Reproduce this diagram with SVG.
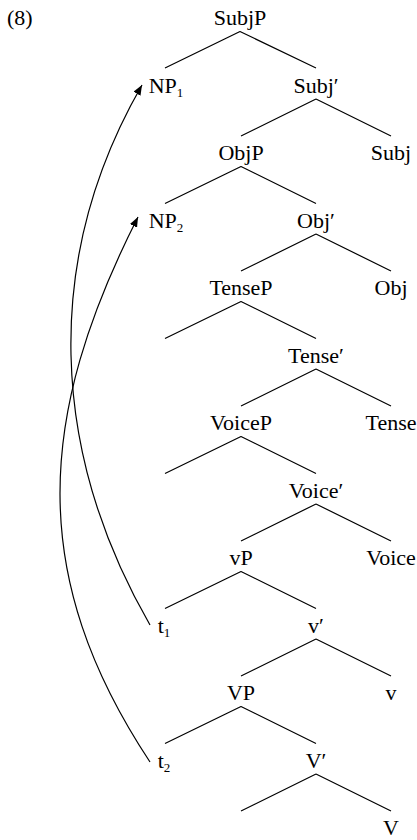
<svg xmlns="http://www.w3.org/2000/svg" width="417" height="840" viewBox="0 0 417 840">
<style>
text{font-family:'Liberation Serif','DejaVu Serif',serif;font-size:22px;fill:#000;text-anchor:middle}
.sub{font-size:13px}
.edge{stroke:#000;stroke-width:1.2;fill:none}
.mv{stroke:#000;stroke-width:1.2;fill:none;marker-end:url(#ah)}
</style>
<defs>
<marker id="ah" markerUnits="userSpaceOnUse" markerWidth="11" markerHeight="8" refX="10" refY="4" orient="auto">
<path d="M0,0 L10,4 L0,8 z" fill="#000"/>
</marker>
</defs>
<text x="7" y="25" style="text-anchor:start">(8)</text>
<g id="connectors">
<path class="edge" d="M240,31.5 L165,68 M240,31.5 L316,68"/>
<path class="edge" d="M316,99 L241,136 M316,99 L391,136"/>
<path class="edge" d="M241,166.5 L165,203.5 M241,166.5 L316,203.5"/>
<path class="edge" d="M316,234 L241,271 M316,234 L391,271"/>
<path class="edge" d="M241,301.5 L165,338.5 M241,301.5 L316,338.5"/>
<path class="edge" d="M316,369 L241,406 M316,369 L391,406"/>
<path class="edge" d="M241,436.5 L165,473.5 M241,436.5 L316,473.5"/>
<path class="edge" d="M316,504 L241,541 M316,504 L391,541"/>
<path class="edge" d="M241,571.5 L165,608.5 M241,571.5 L316,608.5"/>
<path class="edge" d="M316,639 L241,676 M316,639 L391,676"/>
<path class="edge" d="M241,706.5 L165,743.5 M241,706.5 L316,743.5"/>
<path class="edge" d="M316,774 L241,811 M316,774 L391,811"/>
<path id="move1" class="mv" d="M150,625 C50,451 42,259 142,85"/>
<path id="move2" class="mv" d="M150,762 C27,576 37,416 138,217"/>
</g>
<g id="SubjP"><text x="240" y="25">SubjP</text></g>
<g id="NP1"><text x="166" y="92.5">NP<tspan class="sub" dy="4">1</tspan></text></g>
<g id="SubjBar"><text x="316" y="92.5">Subj′</text></g>
<g id="ObjP"><text x="241" y="160">ObjP</text></g>
<g id="Subj"><text x="391" y="160">Subj</text></g>
<g id="NP2"><text x="166" y="227.5">NP<tspan class="sub" dy="4">2</tspan></text></g>
<g id="ObjBar"><text x="316" y="227.5">Obj′</text></g>
<g id="TenseP"><text x="241" y="295">TenseP</text></g>
<g id="Obj"><text x="391" y="295">Obj</text></g>
<g id="TenseBar"><text x="316" y="362.5">Tense′</text></g>
<g id="VoiceP"><text x="241" y="430">VoiceP</text></g>
<g id="Tense"><text x="391" y="430">Tense</text></g>
<g id="VoiceBar"><text x="316" y="497.5">Voice′</text></g>
<g id="vP"><text x="241" y="565">vP</text></g>
<g id="Voice"><text x="391" y="565">Voice</text></g>
<g id="t1"><text x="164" y="632.5">t<tspan class="sub" dy="4">1</tspan></text></g>
<g id="vBar"><text x="316" y="632.5">v′</text></g>
<g id="VP"><text x="241" y="700">VP</text></g>
<g id="v"><text x="391" y="700">v</text></g>
<g id="t2"><text x="164" y="767.5">t<tspan class="sub" dy="4">2</tspan></text></g>
<g id="VBar"><text x="316" y="767.5">V′</text></g>
<g id="V"><text x="391" y="835">V</text></g>
</svg>
